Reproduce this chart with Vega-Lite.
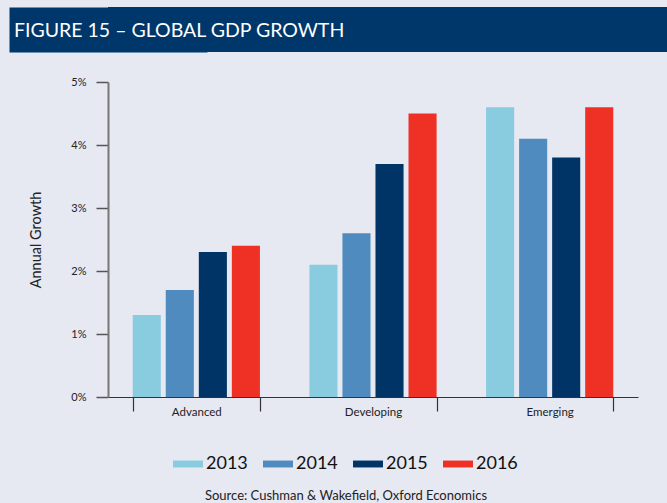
{
  "$schema": "https://vega.github.io/schema/vega-lite/v6.json",
  "background": "#e6e8f2",
  "padding": {"left": 8, "top": 7, "right": 0, "bottom": 0},
  "spacing": 24,
  "columns": 1,
  "align": "none",
  "config": {"font": "Lato", "view": {"stroke": null}},
  "concat": [
    {
      "width": 560,
      "height": 45,
      "view": {"fill": "#00376b", "stroke": null},
      "data": {"values": [{"t": "FIGURE 15 – GLOBAL GDP GROWTH", "v": 0}]},
      "mark": {"type": "text", "opacity": 0},
      "encoding": {
        "text": {"field": "t"},
        "y": {
          "field": "v",
          "type": "quantitative",
          "axis": {
            "title": null,
            "labels": false,
            "ticks": false,
            "grid": false,
            "domainColor": "#00376b",
            "domainWidth": 198
          }
        }
      },
      "title": {
        "text": "FIGURE 15 – GLOBAL GDP GROWTH",
        "orient": "top",
        "anchor": "start",
        "offset": -34,
        "dx": -94,
        "color": "white",
        "fontSize": 19.5,
        "fontWeight": "normal",
        "font": "Lato"
      }
    },
    {
      "width": 530,
      "height": 315,
      "data": {
        "values": [
          {"region": "Advanced", "year": "2013", "value": 1.3},
          {"region": "Advanced", "year": "2014", "value": 1.7},
          {"region": "Advanced", "year": "2015", "value": 2.3},
          {"region": "Advanced", "year": "2016", "value": 2.4},
          {"region": "Developing", "year": "2013", "value": 2.1},
          {"region": "Developing", "year": "2014", "value": 2.6},
          {"region": "Developing", "year": "2015", "value": 3.7},
          {"region": "Developing", "year": "2016", "value": 4.5},
          {"region": "Emerging", "year": "2013", "value": 4.6},
          {"region": "Emerging", "year": "2014", "value": 4.1},
          {"region": "Emerging", "year": "2015", "value": 3.8},
          {"region": "Emerging", "year": "2016", "value": 4.6}
        ]
      },
      "mark": {"type": "bar"},
      "encoding": {
        "x": {
          "field": "region",
          "type": "nominal",
          "sort": ["Advanced", "Developing", "Emerging"],
          "scale": {"paddingInner": 0.28, "paddingOuter": 0.14},
          "axis": {
            "title": null,
            "labelAngle": 0,
            "labelFontSize": 11.5,
            "labelColor": "#222222",
            "domainColor": "#333333",
            "domainWidth": 1.2,
            "tickColor": "#333333",
            "tickWidth": 1.2,
            "tickBand": "extent",
            "tickSize": 14,
            "labelPadding": -5
          }
        },
        "xOffset": {
          "field": "year",
          "type": "nominal",
          "scale": {"paddingInner": 0.15}
        },
        "y": {
          "field": "value",
          "type": "quantitative",
          "scale": {"domain": [0, 5]},
          "axis": {
            "title": ["", "Annual Growth"],
            "titleLineHeight": 20.5,
            "values": [0, 1, 2, 3, 4, 5],
            "labelExpr": "datum.value + '%'",
            "grid": false,
            "tickSize": 12,
            "labelPadding": 10,
            "labelFontSize": 11,
            "labelColor": "#222222",
            "domainColor": "#777777",
            "domainWidth": 2,
            "tickColor": "#555555",
            "tickWidth": 1.5,
            "titleFontSize": 14.5,
            "titleFontWeight": "normal",
            "titleColor": "#222222",
            "titlePadding": 27
          }
        },
        "color": {
          "field": "year",
          "type": "nominal",
          "scale": {"range": ["#89cbdf", "#4f8bbf", "#003466", "#ee3124"]},
          "legend": {
            "title": null,
            "orient": "none",
            "legendX": 65,
            "legendY": 442,
            "direction": "horizontal",
            "symbolType": "M-1,-0.23H1V0.23H-1Z",
            "symbolSize": 900,
            "symbolStrokeWidth": 0,
            "labelFontSize": 18,
            "labelColor": "#111111",
            "labelOffset": 3,
            "columnPadding": 15
          }
        }
      },
      "title": {
        "text": "Source: Cushman & Wakefield, Oxford Economics",
        "orient": "bottom",
        "anchor": "middle",
        "fontSize": 13,
        "fontWeight": "normal",
        "color": "#222222",
        "offset": 72,
        "dx": -27
      }
    }
  ]
}
